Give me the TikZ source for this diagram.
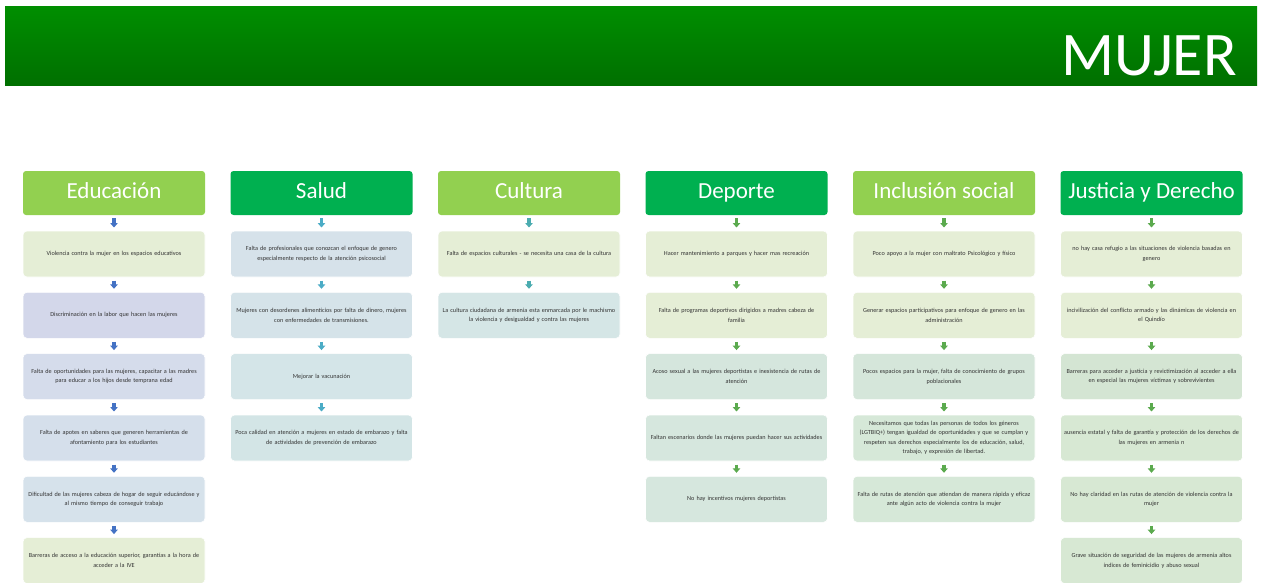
\documentclass[tikz,border=0pt]{standalone}
\usepackage{fontspec}
\setmainfont{Carlito}
\usetikzlibrary{arrows.meta}
\definecolor{bandtop}{HTML}{008E00}
\definecolor{bandbot}{HTML}{006F00}
\definecolor{hlight}{HTML}{92D050}
\definecolor{hdark}{HTML}{00B050}
\definecolor{gA}{HTML}{E5EED6}
\definecolor{bA}{HTML}{D3D7EA}
\definecolor{bB}{HTML}{D5DCEB}
\definecolor{bC}{HTML}{D5DFEB}
\definecolor{bD}{HTML}{D6E2EB}
\definecolor{sA}{HTML}{D6E2EA}
\definecolor{sB}{HTML}{D5E3E9}
\definecolor{sC}{HTML}{D4E5E8}
\definecolor{sD}{HTML}{D3E5E6}
\definecolor{cB}{HTML}{D5E6E6}
\definecolor{dA}{HTML}{D5E6DD}
\definecolor{dB}{HTML}{D6E7DE}
\definecolor{iA}{HTML}{D5E6DA}
\definecolor{iB}{HTML}{D6E8D8}
\definecolor{jA}{HTML}{D4E5D3}
\definecolor{jB}{HTML}{D7E8D3}
\definecolor{aEdu}{HTML}{4472C4}
\definecolor{aSal}{HTML}{4BACC6}
\definecolor{aCul}{HTML}{4BACB0}
\definecolor{aGrn}{HTML}{5BAA4E}
\begin{document}
\begin{tikzpicture}[x=1pt,y=-1pt,
  hdr/.style={rounded corners=3pt, minimum width=182pt, minimum height=44pt,
    text height=16pt, text depth=6pt,
    text=white, font=\fontsize{23}{27}\selectfont, inner sep=0pt},
  cell/.style={rounded corners=4pt, minimum width=182pt, minimum height=46pt,
    text width=180pt, align=center, font=\fontsize{6.2}{9.5}\selectfont,
    inner sep=0pt, draw=white, line width=0.6pt, text=black!80},
  arr/.style={line width=3.6pt, -{Triangle[width=7.5pt,length=4.5pt]},
    shorten <=3.2pt, shorten >=3.2pt}
]
\useasboundingbox (0,0) rectangle (1261,583);
\fill[white] (0,0) rectangle (1261,583);
\shade[top color=bandtop, bottom color=bandbot] (5,7) rectangle (1257,86);
\node[anchor=base east, text=white, inner sep=0pt, font=\fontsize{62}{70}\selectfont] (title) at (1237,76) {MUJER};

% ---------- Educación ----------
\node[hdr, fill=hlight] (e0) at (114,193) {Educación};
\node[cell, fill=gA] (e1) at (114,254) {Violencia contra la mujer en los espacios educativos};
\node[cell, fill=bA] (e2) at (114,315.3) {Discriminación en la labor que hacen las mujeres};
\node[cell, fill=bB] (e3) at (114,376.6) {Falta de oportunidades para las mujeres, capacitar a las madres\\ para educar a los hijos desde temprana edad};
\node[cell, fill=bC] (e4) at (114,438) {Falta de apotes en saberes que generen herramientas de\\ afontamiento para los estudiantes};
\node[cell, fill=bD] (e5) at (114,499.3) {Dificultad de las mujeres cabeza de hogar de seguir educándose y\\ al mismo tiempo de conseguir trabajo};
\node[cell, fill=gA] (e6) at (114,560.6) {Barreras de acceso a la educación superior, garantías a la hora de\\ acceder a la IVE};
\foreach \a/\b in {e0/e1,e1/e2,e2/e3,e3/e4,e4/e5,e5/e6}
  \draw[arr, aEdu] (\a) -- (\b);

% ---------- Salud ----------
\node[hdr, fill=hdark] (s0) at (321.5,193) {Salud};
\node[cell, fill=sA] (s1) at (321.5,254) {Falta de profesionales que conozcan el enfoque de genero\\ especialmente respecto de la atención psicosocial};
\node[cell, fill=sB] (s2) at (321.5,315.3) {Mujeres con desordenes alimenticios por falta de dinero, mujeres\\ con enfermedades de transmisiones.};
\node[cell, fill=sC] (s3) at (321.5,376.6) {Mejorar la vacunación};
\node[cell, fill=sD] (s4) at (321.5,438) {Poca calidad en atención a mujeres en estado de embarazo y falta\\ de actividades de prevención de embarazo};
\foreach \a/\b in {s0/s1,s1/s2,s2/s3,s3/s4}
  \draw[arr, aSal] (\a) -- (\b);

% ---------- Cultura ----------
\node[hdr, fill=hlight] (c0) at (529,193) {Cultura};
\node[cell, fill=gA] (c1) at (529,254) {Falta de espacios culturales - se necesita una casa de la cultura};
\node[cell, fill=cB] (c2) at (529,315.3) {La cultura ciudadana de armenia esta enmarcada por le machismo\\ la violencia y desigualdad y contra las mujeres};
\foreach \a/\b in {c0/c1,c1/c2}
  \draw[arr, aCul] (\a) -- (\b);

% ---------- Deporte ----------
\node[hdr, fill=hdark] (d0) at (736.5,193) {Deporte};
\node[cell, fill=gA] (d1) at (736.5,254) {Hacer mantenimiento a parques y hacer mas recreación};
\node[cell, fill=gA] (d2) at (736.5,315.3) {Falta de programas deportivos dirigidos a madres cabeza de\\ familia};
\node[cell, fill=dA] (d3) at (736.5,376.6) {Acoso sexual a las mujeres deportistas e inexistencia de rutas de\\ atención};
\node[cell, fill=dB] (d4) at (736.5,438) {Faltan escenarios donde las mujeres puedan hacer sus actividades};
\node[cell, fill=dB] (d5) at (736.5,499.3) {No hay incentivos mujeres deportistas};
\foreach \a/\b in {d0/d1,d1/d2,d2/d3,d3/d4,d4/d5}
  \draw[arr, aGrn] (\a) -- (\b);

% ---------- Inclusión social ----------
\node[hdr, fill=hlight] (i0) at (944,193) {Inclusión social};
\node[cell, fill=gA] (i1) at (944,254) {Poco apoyo a la mujer con maltrato Psicológico y físico};
\node[cell, fill=gA] (i2) at (944,315.3) {Generar espacios participativos para enfoque de genero en las\\ administración};
\node[cell, fill=iA] (i3) at (944,376.6) {Pocos espacios para la mujer, falta de conocimiento de grupos\\ poblacionales};
\node[cell, fill=iB] (i4) at (944,438) {Necesitamos que todas las personas de todos los géneros\\ (LGTBIQ+) tengan igualdad de oportunidades y que se cumplan y\\ respeten sus derechos especialmente los de educación, salud,\\ trabajo, y expresión de libertad.};
\node[cell, fill=iB] (i5) at (944,499.3) {Falta de rutas de atención que atiendan de manera rápida y eficaz\\ ante algún acto de violencia contra la mujer};
\foreach \a/\b in {i0/i1,i1/i2,i2/i3,i3/i4,i4/i5}
  \draw[arr, aGrn] (\a) -- (\b);

% ---------- Justicia y Derecho ----------
\node[hdr, fill=hdark] (j0) at (1151.5,193) {Justicia y Derecho};
\node[cell, fill=gA] (j1) at (1151.5,254) {no hay casa refugio a las situaciones de violencia basadas en\\ genero};
\node[cell, fill=gA] (j2) at (1151.5,315.3) {incivilización del conflicto armado y las dinámicas de violencia en\\ el Quindío};
\node[cell, fill=jA] (j3) at (1151.5,376.6) {Barreras para acceder a justicia y revictimización al acceder a ella\\ en especial las mujeres víctimas y sobrevivientes};
\node[cell, fill=jB] (j4) at (1151.5,438) {ausencia estatal y falta de garantía y protección de los derechos de\\ las mujeres en armenia n};
\node[cell, fill=jB] (j5) at (1151.5,499.3) {No hay claridad en las rutas de atención de violencia contra la\\ mujer};
\node[cell, fill=jB] (j6) at (1151.5,560.6) {Grave situación de seguridad de las mujeres de armenia altos\\ índices de feminicidio y abuso sexual};
\foreach \a/\b in {j0/j1,j1/j2,j2/j3,j3/j4,j4/j5,j5/j6}
  \draw[arr, aGrn] (\a) -- (\b);
\end{tikzpicture}
\end{document}
